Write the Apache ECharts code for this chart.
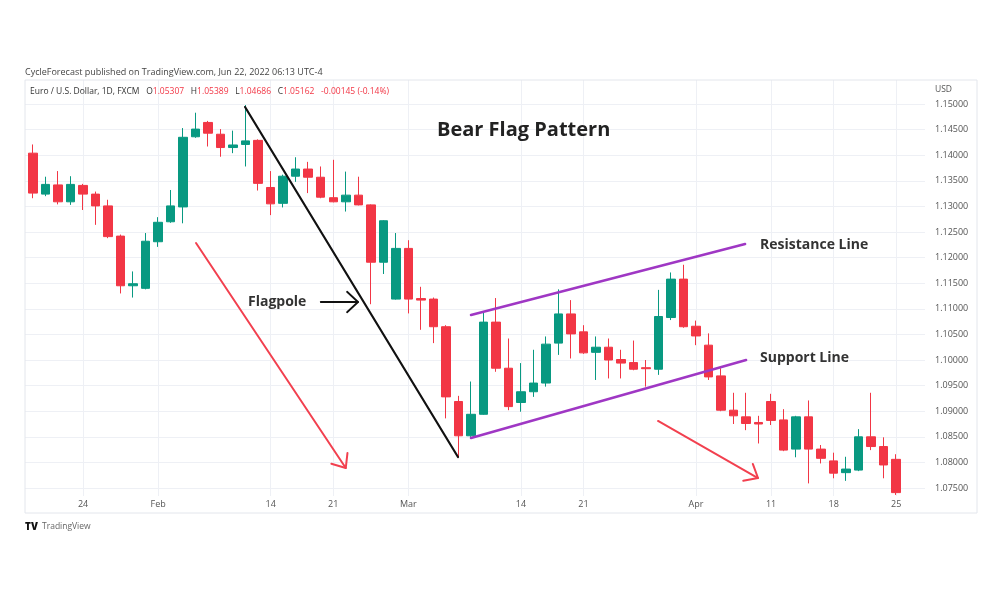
<!DOCTYPE html>
<html>
<head>
<meta charset="utf-8">
<script src="https://cdn.jsdelivr.net/npm/echarts@6/dist/echarts.min.js"></script>
<style>
html, body { margin: 0; padding: 0; background: #fff; }
#chart { width: 1000px; height: 600px; }
</style>
</head>
<body>
<div id="chart"></div>
<script>
// EUR/USD daily, 17 Jan - 25 Apr 2022 (one entry per trading day)
const days = [
  'Jan 17', 'Jan 18', 'Jan 19', 'Jan 20', 'Jan 21', 'Jan 24', 'Jan 25', 'Jan 26', 'Jan 27', 'Jan 28', 'Jan 31',
  'Feb 1', 'Feb 2', 'Feb 3', 'Feb 4', 'Feb 7', 'Feb 8', 'Feb 9', 'Feb 10', 'Feb 11', 'Feb 14',
  'Feb 15', 'Feb 16', 'Feb 17', 'Feb 18', 'Feb 21', 'Feb 22', 'Feb 23', 'Feb 24', 'Feb 25', 'Feb 28',
  'Mar 1', 'Mar 2', 'Mar 3', 'Mar 4', 'Mar 7', 'Mar 8', 'Mar 9', 'Mar 10', 'Mar 11', 'Mar 14',
  'Mar 15', 'Mar 16', 'Mar 17', 'Mar 18', 'Mar 21', 'Mar 22', 'Mar 23', 'Mar 24', 'Mar 25', 'Mar 28',
  'Mar 29', 'Mar 30', 'Mar 31', 'Apr 1', 'Apr 4', 'Apr 5', 'Apr 6', 'Apr 7', 'Apr 8', 'Apr 11',
  'Apr 12', 'Apr 13', 'Apr 14', 'Apr 15', 'Apr 18', 'Apr 19', 'Apr 20', 'Apr 21', 'Apr 22', 'Apr 25'
];
const openP = [
  1.1412, 1.1404, 1.1324, 1.1342, 1.1309, 1.1341, 1.1324, 1.1301, 1.1242, 1.1145, 1.1140,
  1.1231, 1.1270, 1.1299, 1.1436, 1.1464, 1.1441, 1.1415, 1.1421, 1.1429, 1.1337,
  1.1306, 1.1359, 1.1373, 1.1357, 1.1317, 1.1309, 1.1322, 1.1303, 1.1191, 1.1119,
  1.1218, 1.1120, 1.1119, 1.1065, 1.0919, 1.0852, 1.0894, 1.1074, 1.0984, 1.0917,
  1.0938, 1.0955, 1.1033, 1.1090, 1.1055, 1.1015, 1.1025, 1.1001, 1.0995, 1.0985,
  1.0982, 1.1083, 1.1158, 1.1066, 1.1029, 1.0969, 1.0902, 1.0889, 1.0878, 1.0919,
  1.0883, 1.0826, 1.0889, 1.0826, 1.0803, 1.0780, 1.0785, 1.0850, 1.0831, 1.0806
];
const highP = [
  1.1435, 1.1421, 1.1358, 1.1369, 1.1359, 1.1344, 1.1329, 1.1313, 1.1245, 1.1173, 1.1248,
  1.1279, 1.1332, 1.1453, 1.1483, 1.1467, 1.1451, 1.1448, 1.1498, 1.1431, 1.1369,
  1.1362, 1.1396, 1.1387, 1.1378, 1.1391, 1.1368, 1.1358, 1.1304, 1.1273, 1.1248,
  1.1234, 1.1143, 1.1122, 1.1068, 1.0930, 1.0958, 1.1094, 1.1121, 1.1042, 1.0994,
  1.1020, 1.1046, 1.1138, 1.1117, 1.1068, 1.1046, 1.1042, 1.1020, 1.1038, 1.1000,
  1.1137, 1.1171, 1.1186, 1.1077, 1.1052, 1.0984, 1.0936, 1.0936, 1.0891, 1.0934,
  1.0904, 1.0891, 1.0921, 1.0834, 1.0819, 1.0811, 1.0865, 1.0936, 1.0849, 1.0816
];
const lowP = [
  1.1395, 1.1316, 1.1320, 1.1304, 1.1303, 1.1293, 1.1264, 1.1238, 1.1130, 1.1122, 1.1138,
  1.1221, 1.1268, 1.1267, 1.1434, 1.1417, 1.1397, 1.1404, 1.1378, 1.1331, 1.1283,
  1.1298, 1.1348, 1.1326, 1.1316, 1.1308, 1.1290, 1.1302, 1.1109, 1.1168, 1.1118,
  1.1091, 1.1059, 1.1033, 1.0886, 1.0810, 1.0850, 1.0893, 1.0977, 1.0902, 1.0899,
  1.0928, 1.0948, 1.1010, 1.1003, 1.1012, 1.0961, 1.0964, 1.0964, 1.0980, 1.0948,
  1.0971, 1.1078, 1.1063, 1.1029, 1.0961, 1.0900, 1.0875, 1.0863, 1.0837, 1.0873,
  1.0822, 1.0810, 1.0759, 1.0798, 1.0769, 1.0764, 1.0783, 1.0824, 1.0769, 1.07365
];
const closeP = [
  1.1404, 1.1326, 1.1343, 1.1309, 1.1343, 1.1324, 1.1301, 1.1241, 1.1145, 1.1149, 1.1232,
  1.1269, 1.1301, 1.1435, 1.1451, 1.1443, 1.1415, 1.1420, 1.1428, 1.1345, 1.1305,
  1.1359, 1.1373, 1.1357, 1.1318, 1.1309, 1.1322, 1.1303, 1.1191, 1.1272, 1.1218,
  1.1119, 1.1117, 1.1065, 1.0928, 1.0852, 1.0894, 1.1074, 1.0984, 1.0909, 1.0938,
  1.0955, 1.1031, 1.1090, 1.1051, 1.1014, 1.1025, 1.1000, 1.0994, 1.0982, 1.0983,
  1.1085, 1.1158, 1.1065, 1.1047, 1.0967, 1.0902, 1.0891, 1.0876, 1.0875, 1.0882,
  1.0824, 1.0889, 1.0826, 1.0808, 1.0779, 1.0787, 1.0850, 1.0831, 1.0795, 1.0741
];

// time scale labels (day index -> text) and price scale labels
const timeTicks = [5, 11, 20, 25, 31, 40, 45, 54, 60, 65, 70];
const timeTickText = ['24', 'Feb', '14', '21', 'Mar', '14', '21', 'Apr', '11', '18', '25'];
const priceTicks = [1.075, 1.08, 1.085, 1.09, 1.095, 1.1, 1.105, 1.11, 1.115,
  1.12, 1.125, 1.13, 1.135, 1.14, 1.145, 1.15];

// drawn annotations, as [day index, price]
const flagpole = [[17.95, 1.14941], [34.97, 1.08105]];
const flagpoleArrow = [[24.0, 1.11133], [26.98, 1.11133]];
const downArrow1 = [[14.03, 1.12285], [26.0, 1.07891]];
const downArrow2 = [[50.96, 1.08809], [58.95, 1.07695]];
const resistance = [[36.01, 1.10879], [57.92, 1.12266]];
const support = [[36.01, 1.08477], [58.0, 1.10]];

const UP = '#089981';
const DOWN = '#f23645';
const FONT = '"Open Sans", sans-serif';

const candles = days.map((d, i) => [i, openP[i], closeP[i], lowP[i], highP[i]]);

const chart = echarts.init(document.getElementById('chart'));

const option = {
  animation: false,
  textStyle: { fontFamily: FONT },
  grid: { left: 25, right: 75, top: 80, bottom: 104 },
  xAxis: {
    type: 'value',
    min: 0.36,
    max: 72.3,
    axisLine: { show: false },
    axisTick: { show: false, customValues: timeTicks },
    axisLabel: {
      customValues: timeTicks,
      formatter: v => timeTickText[timeTicks.indexOf(Math.round(v))] || '',
      color: '#555',
      fontSize: 9,
      margin: 4,
      hideOverlap: false
    },
    splitLine: { show: true, lineStyle: { color: '#eef0f5', width: 1 } }
  },
  yAxis: {
    type: 'value',
    position: 'right',
    min: 1.07344,
    max: 1.15469,
    axisLine: { show: false },
    axisTick: { show: false, customValues: priceTicks },
    axisLabel: {
      customValues: priceTicks,
      formatter: v => v.toFixed(5),
      color: '#555',
      fontSize: 9,
      margin: 10
    },
    splitLine: { show: true, lineStyle: { color: '#eef0f5', width: 1 } }
  },
  series: [{
    type: 'candlestick',
    data: candles,
    encode: { x: 0, y: [1, 2, 3, 4] },
    barWidth: 9,
    clip: true,
    itemStyle: {
      color: UP,
      color0: DOWN,
      borderColor: UP,
      borderColor0: DOWN,
      borderWidth: 1
    }
  }]
};

chart.setOption(option);

// annotations: convert data coords to pixels
const px = p => chart.convertToPixel({ gridIndex: 0 }, p);

function lineEl(pts, color, width) {
  const a = px(pts[0]), b = px(pts[1]);
  return {
    type: 'line',
    shape: { x1: a[0], y1: a[1], x2: b[0], y2: b[1] },
    style: { stroke: color, lineWidth: width, lineCap: 'round' },
    z: 100
  };
}

function arrowHead(pts, color, width, len, ang) {
  const a = px(pts[0]), b = px(pts[1]);
  const t = Math.atan2(b[1] - a[1], b[0] - a[0]);
  const p1 = [b[0] - len * Math.cos(t - ang), b[1] - len * Math.sin(t - ang)];
  const p2 = [b[0] - len * Math.cos(t + ang), b[1] - len * Math.sin(t + ang)];
  return {
    type: 'polyline',
    shape: { points: [p1, b, p2] },
    style: { stroke: color, lineWidth: width, fill: null, lineJoin: 'round', lineCap: 'round' },
    z: 100
  };
}

function label(text, x, y, size, opts) {
  return {
    type: 'text',
    x: x, y: y,
    style: {
      text: text,
      font: (opts && opts.weight || 'normal') + ' ' + size + 'px ' + FONT,
      fill: (opts && opts.color) || '#222',
      verticalAlign: 'middle'
    },
    z: 100
  };
}

const RED_ARROW = '#f2404f';
const PURPLE = '#9f37c4';

chart.setOption({
  graphic: [
    // chart frame
    { type: 'rect', shape: { x: 25, y: 80, width: 952, height: 433 },
      style: { fill: null, stroke: '#e3e6ec', lineWidth: 1 }, z: 1 },
    label('CycleForecast published on TradingView.com, Jun 22, 2022 06:13 UTC-4', 25, 72, 9, { color: '#444' }),
    {
      type: 'text', x: 30, y: 92, z: 100,
      style: {
        text: '{d|Euro / U.S. Dollar, 1D, FXCM}  {d|O}{r|1.05307}  {d|H}{r|1.05389}  {d|L}{r|1.04686}  {d|C}{r|1.05162}  {r|-0.00145 (-0.14%)}',
        verticalAlign: 'middle',
        rich: {
          d: { fontSize: 8.5, fontFamily: FONT, fill: '#333' },
          r: { fontSize: 8.5, fontFamily: FONT, fill: DOWN }
        }
      }
    },
    label('USD', 935, 90, 8.5, { color: '#555' }),
    label('TV', 25, 527, 10, { weight: '900', color: '#111' }),
    label('TradingView', 42, 527, 8.5, { color: '#666' }),

    label('Bear Flag Pattern', 437, 130, 20, { weight: 'bold', color: '#222' }),
    label('Flagpole', 248, 302, 14, { weight: 'bold', color: '#333' }),
    label('Resistance Line', 760, 245, 14, { weight: 'bold', color: '#333' }),
    label('Support Line', 760, 358, 14, { weight: 'bold', color: '#333' }),

    lineEl(flagpole, '#111', 2.2),
    lineEl(flagpoleArrow, '#111', 1.8),
    arrowHead(flagpoleArrow, '#111', 1.8, 15, 0.75),
    lineEl(downArrow1, RED_ARROW, 2),
    arrowHead(downArrow1, RED_ARROW, 2, 15, 0.7),
    lineEl(downArrow2, RED_ARROW, 2),
    arrowHead(downArrow2, RED_ARROW, 2, 15, 0.7),
    lineEl(resistance, PURPLE, 2.5),
    lineEl(support, PURPLE, 2.5)
  ]
});
</script>
</body>
</html>
